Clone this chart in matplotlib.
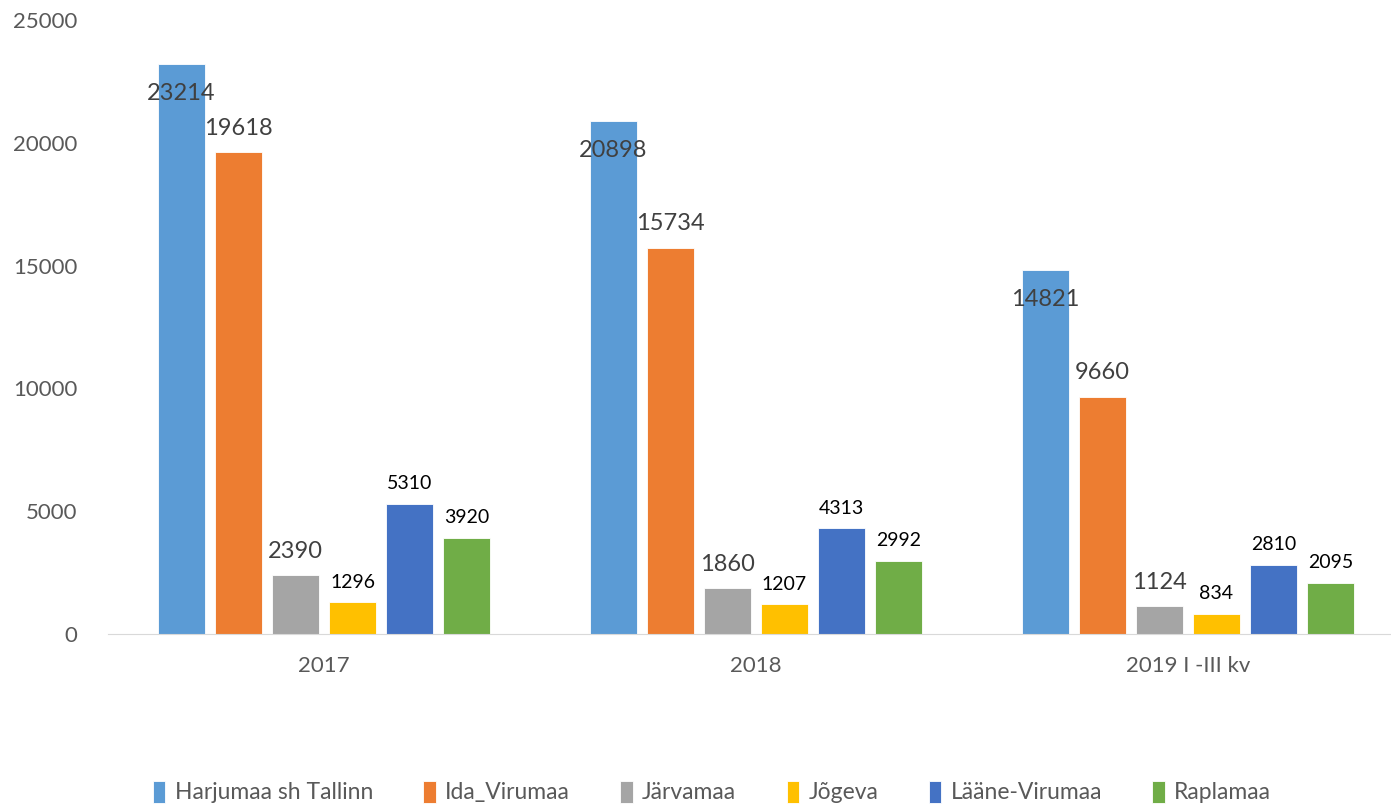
import matplotlib.pyplot as plt
import numpy as np

plt.rcParams['font.family'] = ['Lato', 'DejaVu Sans']

years = ["2017", "2018", "2019 I -III kv"]
series = ["Harjumaa sh Tallinn", "Ida_Virumaa", "Järvamaa", "Jõgeva",
          "Lääne-Virumaa", "Raplamaa"]
harjumaa = [23214, 20898, 14821]
ida_virumaa = [19618, 15734, 9660]
jarvamaa = [2390, 1860, 1124]
jogeva = [1296, 1207, 834]
laane_virumaa = [5310, 4313, 2810]
raplamaa = [3920, 2992, 2095]
values = [harjumaa, ida_virumaa, jarvamaa, jogeva, laane_virumaa, raplamaa]
colors = ['#5B9BD5', '#ED7D31', '#A5A5A5', '#FFC000', '#4472C4', '#70AD47']

fig = plt.figure(figsize=(13.91, 8.09), dpi=100)
ax = fig.add_axes([108/1391, 175/809, 1 - 108/1391, 614/809])

x = np.arange(len(years))
w = 0.108
step = 0.132
for i, (name, vals, c) in enumerate(zip(series, values, colors)):
    pos = x + (i - 2.5) * step
    bars = ax.bar(pos, vals, w, color=c, label=name, edgecolor='white', linewidth=0.6)
    for b, v in zip(bars, vals):
        cx = b.get_x() + b.get_width() / 2
        if i == 0:
            ax.annotate(str(v), (cx, v), xytext=(0, -30), textcoords='offset pixels',
                        ha='center', va='center', fontsize=17, color='#404040')
        elif i < 3:
            ax.annotate(str(v), (cx, v), xytext=(0, 24), textcoords='offset pixels',
                        ha='center', va='center', fontsize=17, color='#404040')
        else:
            ax.annotate(str(v), (cx, v), xytext=(0, 20), textcoords='offset pixels',
                        ha='center', va='center', fontsize=14, color='black')

ax.set_xlim(-0.5, 2.47)
ax.set_ylim(0, 25000)
ax.set_yticks(range(0, 25001, 5000))
ax.set_xticks(x)
ax.set_xticklabels(years)
ax.tick_params(axis='both', length=0, labelsize=16, colors='#595959')
ax.tick_params(axis='y', pad=22)
ax.tick_params(axis='x', pad=16)
for s in ['top', 'right', 'left']:
    ax.spines[s].set_visible(False)
ax.spines['bottom'].set_color('#D9D9D9')

fig.legend(loc='center', bbox_to_anchor=(712/1391, 1 - 792/809), ncol=6, frameon=False,
           fontsize=16.5, handlelength=0.55, handleheight=1.1, columnspacing=2.2,
           handletextpad=0.4, labelcolor='#595959')

fig.savefig('out.png', dpi=100)
